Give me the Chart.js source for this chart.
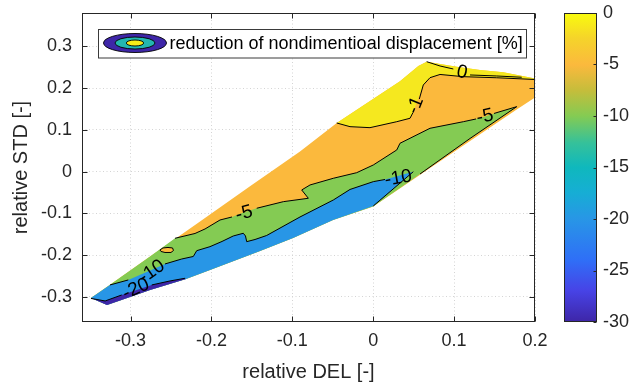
<!DOCTYPE html>
<html>
<head>
<meta charset="utf-8">
<script src="https://cdn.jsdelivr.net/npm/chart.js@4.4.1/dist/chart.umd.min.js"></script>
<style>
  html, body { margin: 0; padding: 0; background: #fff; }
</style>
</head>
<body>
<canvas id="chart" width="630" height="386"></canvas>
<script>
const xTicks = [-0.3, -0.2, -0.1, 0, 0.1, 0.2]
const xTickLabels = ['-0.3', '-0.2', '-0.1', '0', '0.1', '0.2']
const yTicks = [-0.3, -0.2, -0.1, 0, 0.1, 0.2, 0.3]
const yTickLabels = ['-0.3', '-0.2', '-0.1', '0', '0.1', '0.2', '0.3']
const cbTicks = [-30, -25, -20, -15, -10, -5, 0]

// filled contour regions, points are [relative DEL, relative STD]
// whole data area, level -5 .. -1
const regionAll = [
  [-0.3489, -0.3024], [-0.3291, -0.3192], [-0.3130, -0.3084], [-0.2759, -0.2833],
  [-0.2314, -0.2569], [-0.2018, -0.2354], [-0.1399, -0.1899], [-0.0991, -0.1588],
  [-0.0497, -0.1157], [0, -0.0833], [0.1197, 0.0735], [0.1774, 0.1489],
  [0.2, 0.1777], [0.2, 0.2232], [0.1938, 0.2256], [0.1608, 0.2380],
  [0.1320, 0.2435], [0.1032, 0.2514], [0.0661, 0.2634], [0.0558, 0.2531],
  [0.0331, 0.2167], [-0.0451, 0.1166], [-0.0905, 0.0486], [-0.1523, -0.0352],
  [-0.2141, -0.1193], [-0.2759, -0.2033], [-0.3254, -0.2706]
]
// above -1
const regionTop = [
  [-0.0451, 0.1166], [-0.0287, 0.1078], [-0.0040, 0.1054], [0.0291, 0.1197],
  [0.0455, 0.1279], [0.0496, 0.1437], [0.0558, 0.1758], [0.0619, 0.2076],
  [0.0702, 0.2251], [0.0826, 0.2328], [0.1114, 0.2275], [0.1527, 0.2249],
  [0.2, 0.2208], [0.2, 0.2232], [0.1938, 0.2256], [0.1608, 0.2380],
  [0.1320, 0.2435], [0.1032, 0.2514], [0.0661, 0.2634], [0.0558, 0.2531],
  [0.0331, 0.2167]
]
// -10 .. -5
const regionMid = [
  [-0.2450, -0.1595], [-0.2203, -0.1480], [-0.2079, -0.1372], [-0.1894, -0.1157],
  [-0.1746, -0.1085], [-0.1606, -0.0980], [-0.1440, -0.0876], [-0.1111, -0.0718],
  [-0.0802, -0.0637], [-0.0884, -0.0438], [-0.0781, -0.0318], [-0.0493, -0.0158],
  [-0.0204, -0.0024], [0.0001, 0.0160], [0.0291, 0.0520], [0.0331, 0.0680],
  [0.0455, 0.0800], [0.0702, 0.1039], [0.1114, 0.1197], [0.1271, 0.1262],
  [0.1382, 0.1322], [0.1493, 0.1394], [0.1774, 0.1557], [0.1197, 0.0795],
  [0.0579, -0.0055], [0, -0.0833], [-0.0497, -0.1157], [-0.0991, -0.1588],
  [-0.1399, -0.1899], [-0.2018, -0.2354], [-0.2314, -0.2569], [-0.2759, -0.2833],
  [-0.3130, -0.3084], [-0.3291, -0.3192], [-0.3489, -0.3024], [-0.3254, -0.2706],
  [-0.2759, -0.2033]
]
// small -5 island
const regionIsland = [
  [-0.2636, -0.1875], [-0.2599, -0.1827], [-0.2537, -0.1815], [-0.2481, -0.1827],
  [-0.2469, -0.1887], [-0.2500, -0.1935], [-0.2574, -0.1935], [-0.2623, -0.1911]
]
// -20 .. -10
const regionLow = [
  [-0.3254, -0.2713], [-0.3028, -0.2593], [-0.2574, -0.2210], [-0.2367, -0.2091],
  [-0.2224, -0.2031], [-0.2182, -0.1892], [-0.2018, -0.1796], [-0.1869, -0.1671],
  [-0.1730, -0.1540], [-0.1606, -0.1475], [-0.1579, -0.1540], [-0.1564, -0.1676],
  [-0.1461, -0.1624], [-0.1317, -0.1528], [-0.0905, -0.1085], [-0.0493, -0.0678],
  [-0.0287, -0.0426], [0.0001, -0.0239], [0.0146, -0.0187], [0.0496, 0],
  [0.0001, -0.0821], [-0.0497, -0.1157], [-0.0991, -0.1588], [-0.1399, -0.1899],
  [-0.2018, -0.2354], [-0.2314, -0.2569], [-0.2759, -0.2833], [-0.3130, -0.3084],
  [-0.3291, -0.3192], [-0.3489, -0.3024]
]
// below -20
const regionMin = [
  [-0.3489, -0.3036], [-0.3314, -0.3096], [-0.3109, -0.2953], [-0.2738, -0.2713],
  [-0.2512, -0.2617], [-0.2327, -0.2553], [-0.2314, -0.2569], [-0.2759, -0.2833],
  [-0.3130, -0.3084], [-0.3291, -0.3192], [-0.3489, -0.3024]
]

// contour lines, null leaves room for the label
const line0 = [
  [0.0661, 0.2634], [0.0826, 0.2531], [0.0990, 0.2459], null,
  [0.1197, 0.2316], [0.1527, 0.2292], [0.1836, 0.2261]
]
const lineM1 = [
  [-0.0451, 0.1166], [-0.0287, 0.1078], [-0.0040, 0.1054], [0.0291, 0.1197],
  [0.0455, 0.1279], [0.0490, 0.1410], null, [0.0570, 0.1740], [0.0619, 0.2076],
  [0.0702, 0.2251], [0.0826, 0.2328], [0.1114, 0.2275], [0.1527, 0.2249], [0.2, 0.2208]
]
const lineM5 = [
  [-0.2450, -0.1595], [-0.2203, -0.1480], [-0.2079, -0.1372], [-0.1894, -0.1157],
  [-0.1746, -0.1085], null, [-0.1440, -0.0876], [-0.1111, -0.0718],
  [-0.0802, -0.0637], [-0.0884, -0.0438], [-0.0781, -0.0318], [-0.0493, -0.0158],
  [-0.0204, -0.0024], [0.0001, 0.0160], [0.0291, 0.0520], [0.0331, 0.0680],
  [0.0455, 0.0800], [0.0702, 0.1039], [0.1114, 0.1197], [0.1271, 0.1262], null,
  [0.1493, 0.1394], [0.1774, 0.1557], [0.1197, 0.0795], [0.0579, -0.0055]
]
const lineM5Island = regionIsland.concat([regionIsland[0]])
const lineM10 = [
  [-0.3254, -0.2713], [-0.3028, -0.2593], null, [-0.2574, -0.2210], [-0.2367, -0.2091],
  [-0.2224, -0.2031], [-0.2182, -0.1892], [-0.2018, -0.1796], [-0.1869, -0.1671],
  [-0.1730, -0.1540], [-0.1606, -0.1475], [-0.1579, -0.1540], [-0.1564, -0.1676],
  [-0.1461, -0.1624], [-0.1317, -0.1528], [-0.0905, -0.1085], [-0.0493, -0.0678],
  [-0.0287, -0.0426], [0.0001, -0.0239], [0.0146, -0.0187], null,
  [0.0496, 0], [0.0001, -0.0821]
]
const lineM20 = [
  [-0.3489, -0.3036], [-0.3314, -0.3096], [-0.3109, -0.2953], null,
  [-0.2738, -0.2713], [-0.2512, -0.2617], [-0.2327, -0.2553]
]

const labelText = ['0', '-1', '-5', '-5', '-10', '-10', '-20']
const labelX = [0.1098, 0.0523, -0.1596, 0.1382, 0.0310, -0.2738, -0.2932]
const labelY = [0.2375, 0.1585, -0.1001, 0.1317, -0.0158, -0.2395, -0.2809]
const labelAngle = [12, -68, -15, -12, -10, -35, -25]

const FONT = '"Liberation Sans", Arial, Helvetica, sans-serif'
const INK = '#262626'
Chart.defaults.font.family = FONT
Chart.defaults.color = INK

// parula-like colour stops for the colour bar
const parula = [
  [0, '#3e26a8'], [0.1, '#4743e6'], [0.2, '#2f6ff7'], [0.333, '#2896e6'],
  [0.42, '#16aed4'], [0.5, '#0fb8bd'], [0.58, '#35c19a'], [0.667, '#84cb53'],
  [0.75, '#c5bd3b'], [0.833, '#fbb93d'], [0.92, '#f5d42a'], [1, '#f9fb0e']
]

const toPts = arr => arr.map(p => p ? { x: p[0], y: p[1] } : { x: 0, y: null })

const region = (data, color, order) => ({
  data: toPts(data),
  backgroundColor: color,
  borderColor: 'rgba(0,0,0,0)',
  borderWidth: 1,
  fill: 'shape',
  pointRadius: 0,
  order
})

const contour = data => ({
  data: toPts(data),
  borderColor: '#000',
  borderWidth: 1,
  fill: false,
  pointRadius: 0,
  order: 0
})

const decor = {
  id: 'decor',
  afterDatasetsDraw(chart) {
    const { ctx, chartArea: a, scales: { x, y, cb } } = chart

    // contour labels
    ctx.save()
    ctx.fillStyle = '#000'
    ctx.font = '19px ' + FONT
    ctx.textAlign = 'center'
    ctx.textBaseline = 'middle'
    labelText.forEach((t, i) => {
      ctx.save()
      ctx.translate(x.getPixelForValue(labelX[i]), y.getPixelForValue(labelY[i]))
      ctx.rotate(labelAngle[i] * Math.PI / 180)
      ctx.fillText(t, 0, 0)
      ctx.restore()
    })
    ctx.restore()

    // axes box with inward ticks
    ctx.save()
    ctx.strokeStyle = INK
    ctx.lineWidth = 1
    const L = Math.round(a.left) + 0.5
    const R = Math.round(a.right) - 0.5
    const T = Math.round(a.top) + 0.5
    const B = Math.round(a.bottom) - 0.5
    ctx.strokeRect(L, T, R - L, B - T)
    ctx.beginPath()
    xTicks.forEach(v => {
      const px = Math.round(x.getPixelForValue(v)) + 0.5
      ctx.moveTo(px, B); ctx.lineTo(px, B - 5)
      ctx.moveTo(px, T); ctx.lineTo(px, T + 5)
    })
    yTicks.forEach(v => {
      const py = Math.round(y.getPixelForValue(v)) + 0.5
      ctx.moveTo(L, py); ctx.lineTo(L + 5, py)
      ctx.moveTo(R, py); ctx.lineTo(R - 5, py)
    })
    ctx.stroke()
    ctx.restore()

    // colour bar
    const cTop = Math.round(cb.getPixelForValue(0)) + 0.5
    const cBot = Math.round(cb.getPixelForValue(-30)) - 0.5
    const cL = Math.round(a.right) + 29.5
    const cW = 32
    const grad = ctx.createLinearGradient(0, cBot, 0, cTop)
    parula.forEach(s => grad.addColorStop(s[0], s[1]))
    ctx.save()
    ctx.fillStyle = grad
    ctx.fillRect(cL, cTop, cW, cBot - cTop)
    ctx.strokeStyle = INK
    ctx.lineWidth = 1
    ctx.strokeRect(cL, cTop, cW, cBot - cTop)
    ctx.beginPath()
    cbTicks.forEach(v => {
      const py = Math.round(cb.getPixelForValue(v)) + 0.5
      ctx.moveTo(cL + cW, py); ctx.lineTo(cL + cW - 3, py)
    })
    ctx.stroke()
    ctx.restore()

    // legend
    const lx = Math.round(a.left) + 16.5
    const ly = Math.round(a.top) + 16.5
    ctx.save()
    ctx.fillStyle = '#fff'
    ctx.fillRect(lx, ly, 428, 28.5)
    ctx.strokeStyle = '#3a3a3a'
    ctx.lineWidth = 1
    ctx.strokeRect(lx, ly, 428, 28.5)
    const ex = lx + 36.5
    const ey = ly + 13.5
    ;[[31.5, 9.5, '#3e26a8'], [20, 6, '#23b7b0'], [8.7, 3, '#f7ec18']].forEach(e => {
      ctx.beginPath()
      ctx.ellipse(ex, ey, e[0], e[1], 0, 0, Math.PI * 2)
      ctx.fillStyle = e[2]
      ctx.fill()
      ctx.strokeStyle = '#000'
      ctx.lineWidth = 0.9
      ctx.stroke()
    })
    ctx.fillStyle = '#000'
    ctx.font = '18px ' + FONT
    ctx.textAlign = 'left'
    ctx.textBaseline = 'middle'
    ctx.fillText('reduction of nondimentioal displacement [%]', lx + 71, ey + 1)
    ctx.restore()
  }
}

new Chart(document.getElementById('chart'), {
  type: 'line',
  data: {
    datasets: [
      contour(line0),
      contour(lineM1),
      contour(lineM5),
      contour(lineM5Island),
      contour(lineM10),
      contour(lineM20),
      region(regionMin, '#3e26a8', 5),
      region(regionLow, '#2896e6', 6),
      region(regionIsland, '#fbb93d', 7),
      region(regionMid, '#84cb53', 8),
      region(regionTop, '#f5e81f', 9),
      region(regionAll, '#fbb93d', 10)
    ]
  },
  options: {
    responsive: false,
    animation: false,
    events: [],
    layout: { padding: { top: 13, right: 0, bottom: 0, left: 0 } },
    elements: { line: { tension: 0 } },
    plugins: { legend: { display: false }, tooltip: { enabled: false } },
    scales: {
      x: {
        type: 'linear',
        min: -0.36,
        max: 0.2,
        afterBuildTicks: s => { s.ticks = xTicks.map(v => ({ value: v })) },
        afterFit: s => { s.height = 64; s.paddingLeft = 0; s.paddingRight = 0 },
        ticks: {
          font: { size: 18 },
          color: INK,
          padding: 8,
          maxRotation: 0,
          callback: (v, i) => xTickLabels[i]
        },
        grid: { color: '#d4d4d4', drawTicks: false },
        border: { display: false, dash: [1, 2.5] },
        title: { display: true, text: 'relative DEL [-]', font: { size: 20 }, color: INK, padding: { top: 0, bottom: 2 } }
      },
      y: {
        type: 'linear',
        min: -0.36,
        max: 0.38,
        afterBuildTicks: s => { s.ticks = yTicks.map(v => ({ value: v })) },
        afterFit: s => { s.width = 82; s.paddingTop = 0; s.paddingBottom = 0 },
        ticks: {
          font: { size: 18 },
          color: INK,
          padding: 10,
          callback: (v, i) => yTickLabels[i]
        },
        grid: { color: '#d4d4d4', drawTicks: false },
        border: { display: false, dash: [1, 2.5] },
        title: { display: true, text: 'relative STD [-]', font: { size: 20 }, color: INK, padding: { top: 9, bottom: 0 } }
      },
      cb: {
        type: 'linear',
        position: 'right',
        min: -30,
        max: 0,
        afterBuildTicks: s => { s.ticks = cbTicks.map(v => ({ value: v })) },
        afterFit: s => { s.width = 95; s.paddingTop = 0; s.paddingBottom = 0 },
        ticks: { font: { size: 18 }, color: INK, padding: 68 },
        grid: { display: false, drawTicks: false },
        border: { display: false }
      }
    }
  },
  plugins: [decor]
})
</script>
</body>
</html>
